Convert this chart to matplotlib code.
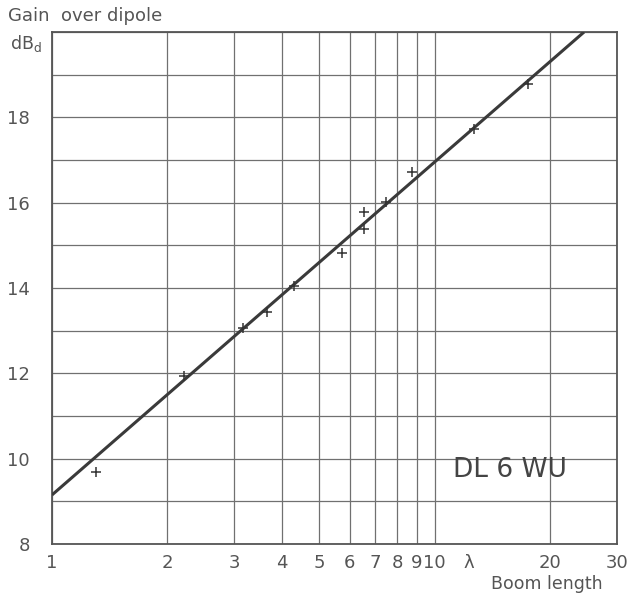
import numpy as np
import matplotlib
matplotlib.use("Agg")
import matplotlib.pyplot as plt

# Measured points (boom length in wavelengths, gain in dBd)
boom_length = [1.30, 2.21, 3.15, 3.65, 4.30, 5.74, 6.53, 6.56, 7.45, 8.71, 12.7, 17.6]
gain_dbd = [9.68, 11.94, 13.07, 13.44, 14.05, 14.83, 15.39, 15.77, 16.01, 16.72, 17.73, 18.77]

# Fitted line: G = a + b*log10(L)
fit_intercept = 9.15
fit_slope = 7.8
fit_x = [1.0, 24.6]

x_ticks = [1, 2, 3, 4, 5, 6, 7, 8, 9, 10, 20, 30]
x_ticklabels = ["1", "2", "3", "4", "5", "6", "7", "8", "9", "10", "20", "30"]
y_grid = [8, 9, 10, 11, 12, 13, 14, 15, 16, 17, 18, 19, 20]
y_ticks = [8, 10, 12, 14, 16, 18]

plt.rcParams['font.family'] = ['DejaVu Sans']
fig = plt.figure(figsize=(6.35, 5.94), dpi=100)
ax = fig.add_axes([52/635, 50/594, 565/635, 512/594])
ax.set_xscale('log')
ax.set_xlim(1, 30)
ax.set_ylim(8, 20)

gridc = '#707070'
for x in x_ticks:
    ax.axvline(x, color=gridc, lw=0.9, zorder=1)
for y in y_grid:
    ax.axhline(y, color=gridc, lw=0.9, zorder=1)
for s in ax.spines.values():
    s.set_color('#555555')
    s.set_linewidth(1.3)

fx = np.array(fit_x)
ax.plot(fx, fit_intercept + fit_slope*np.log10(fx), color='#3a3a3a', lw=2.2, zorder=3, solid_capstyle='butt')
ax.plot(boom_length, gain_dbd, linestyle='none', marker='+', ms=6.5, mew=1.1, color='#333333', zorder=4)

ax.xaxis.set_minor_locator(matplotlib.ticker.NullLocator())
ax.set_xticks(x_ticks)
ax.set_xticklabels(x_ticklabels)
ax.set_yticks(y_ticks)
ax.tick_params(axis='both', length=0, labelsize=13, labelcolor='#555555')
ax.tick_params(axis='x', pad=7)
ax.tick_params(axis='y', pad=16)

ax.text(12.3, -10/512, "λ", transform=ax.get_xaxis_transform(), ha='center', va='top',
        fontsize=13, color='#555555')
fig.text(547/635, 1-584/594, "Boom length", ha='center', va='center', fontsize=12.5, color='#555555')
fig.text(8/635, 1-16/594, "Gain  over dipole", ha='left', va='center', fontsize=13, color='#555555')
fig.text(10/635, 1-44/594, "dB$_\\mathregular{d}$", ha='left', va='center', fontsize=12.5, color='#555555')
fig.text(510/635, 1-470/594, "DL 6 WU", ha='center', va='center', fontsize=19, color='#444444')

fig.savefig("out.png", dpi=100)
